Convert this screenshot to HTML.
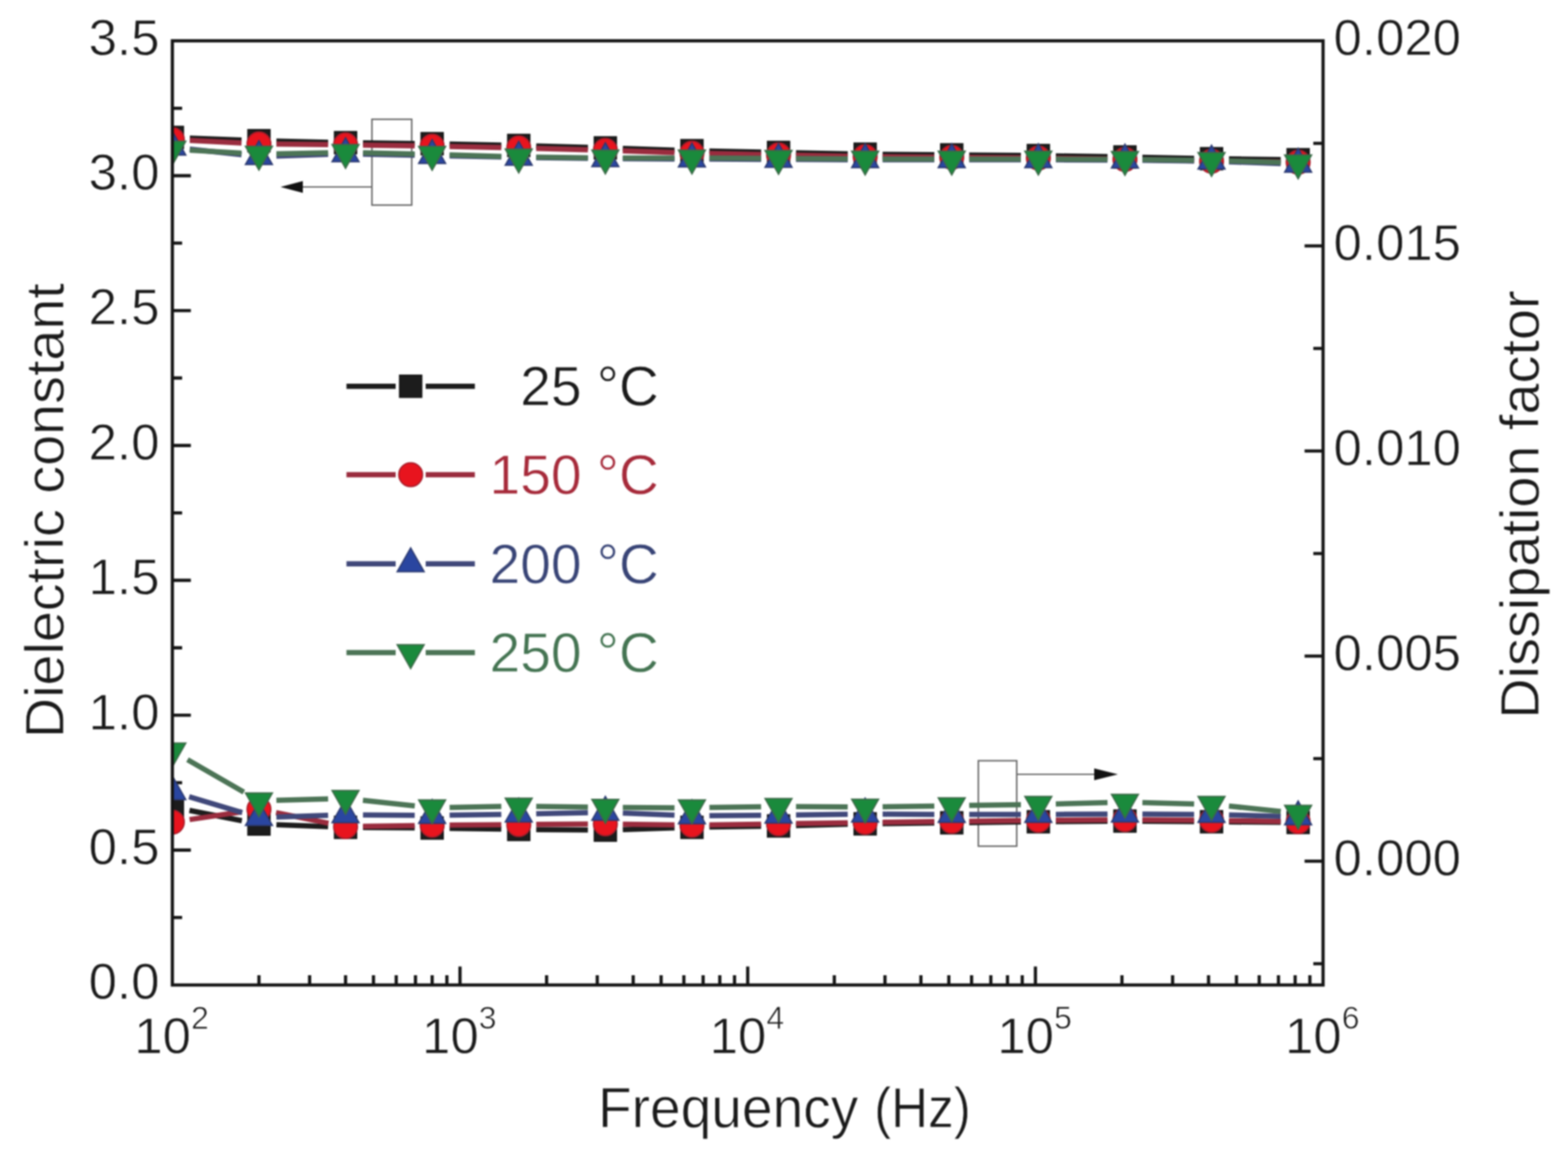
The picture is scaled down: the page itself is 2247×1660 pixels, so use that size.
<!DOCTYPE html>
<html><head><meta charset="utf-8"><title>Dielectric constant and dissipation factor vs frequency</title>
<style>
html,body{margin:0;padding:0;background:#fff;}
body{width:2247px;height:1660px;overflow:hidden;}
svg{display:block;filter:blur(1.3px);}
text{font-family:'Liberation Sans', Arial, Helvetica, sans-serif;stroke:#fff;stroke-width:0.9px;}
</style></head><body>
<svg width="2247" height="1660" viewBox="0 0 2247 1660">
<rect width="2247" height="1660" fill="#ffffff"/>
<defs><clipPath id="pa"><rect x="247.0" y="58.5" width="1649.0" height="1353.5"/></clipPath></defs>

<g fill="none" stroke="#6a6a6a" stroke-width="2.2">
<rect x="533" y="171" width="57" height="123"/>
<line x1="533" y1="268" x2="425" y2="268"/>
<rect x="1402" y="1090.5" width="55" height="122.5"/>
<line x1="1457" y1="1110" x2="1572" y2="1110"/>
</g>
<polygon points="402,268 434,259.5 434,276.5" fill="#111"/>
<polygon points="1602,1110 1568,1101.5 1568,1118.5" fill="#111"/>
<path d="M247.0,1315.3h14.0 M247.0,1218.6h26.5 M247.0,1122.0h14.0 M247.0,1025.3h26.5 M247.0,928.6h14.0 M247.0,831.9h26.5 M247.0,735.2h14.0 M247.0,638.6h26.5 M247.0,541.9h14.0 M247.0,445.2h26.5 M247.0,348.5h14.0 M247.0,251.9h26.5 M247.0,155.2h14.0 M1896.0,1381.5h-14.0 M1896.0,1234.5h-26.5 M1896.0,1087.5h-14.0 M1896.0,940.5h-26.5 M1896.0,793.5h-14.0 M1896.0,646.5h-26.5 M1896.0,499.5h-14.0 M1896.0,352.5h-26.5 M1896.0,205.5h-14.0 M371.1,1412.0v-14.0 M443.7,1412.0v-14.0 M495.2,1412.0v-14.0 M535.2,1412.0v-14.0 M567.8,1412.0v-14.0 M595.4,1412.0v-14.0 M619.3,1412.0v-14.0 M640.4,1412.0v-14.0 M659.2,1412.0v-26.5 M783.3,1412.0v-14.0 M855.9,1412.0v-14.0 M907.4,1412.0v-14.0 M947.4,1412.0v-14.0 M980.0,1412.0v-14.0 M1007.6,1412.0v-14.0 M1031.5,1412.0v-14.0 M1052.6,1412.0v-14.0 M1071.5,1412.0v-26.5 M1195.6,1412.0v-14.0 M1268.2,1412.0v-14.0 M1319.7,1412.0v-14.0 M1359.7,1412.0v-14.0 M1392.3,1412.0v-14.0 M1419.9,1412.0v-14.0 M1443.8,1412.0v-14.0 M1464.9,1412.0v-14.0 M1483.8,1412.0v-26.5 M1607.8,1412.0v-14.0 M1680.4,1412.0v-14.0 M1731.9,1412.0v-14.0 M1771.9,1412.0v-14.0 M1804.5,1412.0v-14.0 M1832.1,1412.0v-14.0 M1856.0,1412.0v-14.0 M1877.1,1412.0v-14.0" stroke="#141414" stroke-width="4.6" fill="none"/>
<g clip-path="url(#pa)">
<line x1="272.0" y1="197.9" x2="346.1" y2="200.8" stroke="#1c1c1c" stroke-width="7.5"/>
<line x1="396.1" y1="202.3" x2="470.2" y2="203.9" stroke="#1c1c1c" stroke-width="7.5"/>
<line x1="520.2" y1="204.8" x2="594.3" y2="205.7" stroke="#1c1c1c" stroke-width="7.5"/>
<line x1="644.3" y1="206.5" x2="718.4" y2="208.0" stroke="#1c1c1c" stroke-width="7.5"/>
<line x1="768.4" y1="209.2" x2="842.5" y2="211.3" stroke="#1c1c1c" stroke-width="7.5"/>
<line x1="892.5" y1="212.8" x2="966.6" y2="215.2" stroke="#1c1c1c" stroke-width="7.5"/>
<line x1="1016.6" y1="216.5" x2="1090.7" y2="218.0" stroke="#1c1c1c" stroke-width="7.5"/>
<line x1="1140.7" y1="219.0" x2="1214.8" y2="220.5" stroke="#1c1c1c" stroke-width="7.5"/>
<line x1="1264.8" y1="221.2" x2="1338.9" y2="221.8" stroke="#1c1c1c" stroke-width="7.5"/>
<line x1="1388.9" y1="222.2" x2="1463.0" y2="222.8" stroke="#1c1c1c" stroke-width="7.5"/>
<line x1="1513.0" y1="223.4" x2="1587.1" y2="224.6" stroke="#1c1c1c" stroke-width="7.5"/>
<line x1="1637.1" y1="225.5" x2="1711.2" y2="227.0" stroke="#1c1c1c" stroke-width="7.5"/>
<line x1="1761.2" y1="227.8" x2="1835.3" y2="228.7" stroke="#1c1c1c" stroke-width="7.5"/>
<rect x="231.0" y="181.0" width="32.0" height="32.0" fill="#1c1c1c" stroke="#111111" stroke-width="1.5"/>
<rect x="355.1" y="185.7" width="32.0" height="32.0" fill="#1c1c1c" stroke="#111111" stroke-width="1.5"/>
<rect x="479.2" y="188.5" width="32.0" height="32.0" fill="#1c1c1c" stroke="#111111" stroke-width="1.5"/>
<rect x="603.3" y="190.0" width="32.0" height="32.0" fill="#1c1c1c" stroke="#111111" stroke-width="1.5"/>
<rect x="727.4" y="192.5" width="32.0" height="32.0" fill="#1c1c1c" stroke="#111111" stroke-width="1.5"/>
<rect x="851.5" y="196.0" width="32.0" height="32.0" fill="#1c1c1c" stroke="#111111" stroke-width="1.5"/>
<rect x="975.6" y="200.0" width="32.0" height="32.0" fill="#1c1c1c" stroke="#111111" stroke-width="1.5"/>
<rect x="1099.7" y="202.5" width="32.0" height="32.0" fill="#1c1c1c" stroke="#111111" stroke-width="1.5"/>
<rect x="1223.8" y="205.0" width="32.0" height="32.0" fill="#1c1c1c" stroke="#111111" stroke-width="1.5"/>
<rect x="1347.9" y="206.0" width="32.0" height="32.0" fill="#1c1c1c" stroke="#111111" stroke-width="1.5"/>
<rect x="1472.0" y="207.0" width="32.0" height="32.0" fill="#1c1c1c" stroke="#111111" stroke-width="1.5"/>
<rect x="1596.1" y="209.0" width="32.0" height="32.0" fill="#1c1c1c" stroke="#111111" stroke-width="1.5"/>
<rect x="1720.2" y="211.5" width="32.0" height="32.0" fill="#1c1c1c" stroke="#111111" stroke-width="1.5"/>
<rect x="1844.3" y="213.0" width="32.0" height="32.0" fill="#1c1c1c" stroke="#111111" stroke-width="1.5"/>
<line x1="272.0" y1="201.2" x2="346.1" y2="205.0" stroke="#9a2c3e" stroke-width="7.5"/>
<line x1="396.1" y1="206.5" x2="470.2" y2="207.2" stroke="#9a2c3e" stroke-width="7.5"/>
<line x1="520.2" y1="207.9" x2="594.3" y2="209.1" stroke="#9a2c3e" stroke-width="7.5"/>
<line x1="644.3" y1="210.0" x2="718.4" y2="211.5" stroke="#9a2c3e" stroke-width="7.5"/>
<line x1="768.4" y1="212.7" x2="842.5" y2="214.8" stroke="#9a2c3e" stroke-width="7.5"/>
<line x1="892.5" y1="216.3" x2="966.6" y2="218.7" stroke="#9a2c3e" stroke-width="7.5"/>
<line x1="1016.6" y1="220.0" x2="1090.7" y2="221.5" stroke="#9a2c3e" stroke-width="7.5"/>
<line x1="1140.7" y1="222.5" x2="1214.8" y2="224.0" stroke="#9a2c3e" stroke-width="7.5"/>
<line x1="1264.8" y1="224.7" x2="1338.9" y2="225.3" stroke="#9a2c3e" stroke-width="7.5"/>
<line x1="1388.9" y1="225.7" x2="1463.0" y2="226.3" stroke="#9a2c3e" stroke-width="7.5"/>
<line x1="1513.0" y1="226.9" x2="1587.1" y2="228.1" stroke="#9a2c3e" stroke-width="7.5"/>
<line x1="1637.1" y1="229.0" x2="1711.2" y2="230.5" stroke="#9a2c3e" stroke-width="7.5"/>
<line x1="1761.2" y1="231.3" x2="1835.3" y2="232.2" stroke="#9a2c3e" stroke-width="7.5"/>
<circle cx="247.0" cy="200.0" r="17.0" fill="#e8141e" stroke="#a81c2a" stroke-width="2"/>
<circle cx="371.1" cy="206.2" r="17.0" fill="#e8141e" stroke="#a81c2a" stroke-width="2"/>
<circle cx="495.2" cy="207.5" r="17.0" fill="#e8141e" stroke="#a81c2a" stroke-width="2"/>
<circle cx="619.3" cy="209.5" r="17.0" fill="#e8141e" stroke="#a81c2a" stroke-width="2"/>
<circle cx="743.4" cy="212.0" r="17.0" fill="#e8141e" stroke="#a81c2a" stroke-width="2"/>
<circle cx="867.5" cy="215.5" r="17.0" fill="#e8141e" stroke="#a81c2a" stroke-width="2"/>
<circle cx="991.6" cy="219.5" r="17.0" fill="#e8141e" stroke="#a81c2a" stroke-width="2"/>
<circle cx="1115.7" cy="222.0" r="17.0" fill="#e8141e" stroke="#a81c2a" stroke-width="2"/>
<circle cx="1239.8" cy="224.5" r="17.0" fill="#e8141e" stroke="#a81c2a" stroke-width="2"/>
<circle cx="1363.9" cy="225.5" r="17.0" fill="#e8141e" stroke="#a81c2a" stroke-width="2"/>
<circle cx="1488.0" cy="226.5" r="17.0" fill="#e8141e" stroke="#a81c2a" stroke-width="2"/>
<circle cx="1612.1" cy="228.5" r="17.0" fill="#e8141e" stroke="#a81c2a" stroke-width="2"/>
<circle cx="1736.2" cy="231.0" r="17.0" fill="#e8141e" stroke="#a81c2a" stroke-width="2"/>
<circle cx="1860.3" cy="232.5" r="17.0" fill="#e8141e" stroke="#a81c2a" stroke-width="2"/>
<line x1="271.9" y1="213.7" x2="346.2" y2="221.8" stroke="#40487a" stroke-width="7.5"/>
<line x1="396.1" y1="223.7" x2="470.2" y2="221.3" stroke="#40487a" stroke-width="7.5"/>
<line x1="520.2" y1="221.0" x2="594.3" y2="222.5" stroke="#40487a" stroke-width="7.5"/>
<line x1="644.3" y1="223.5" x2="718.4" y2="225.0" stroke="#40487a" stroke-width="7.5"/>
<line x1="768.4" y1="225.9" x2="842.5" y2="227.1" stroke="#40487a" stroke-width="7.5"/>
<line x1="892.5" y1="227.6" x2="966.6" y2="227.9" stroke="#40487a" stroke-width="7.5"/>
<line x1="1016.6" y1="228.1" x2="1090.7" y2="228.4" stroke="#40487a" stroke-width="7.5"/>
<line x1="1140.7" y1="228.6" x2="1214.8" y2="228.9" stroke="#40487a" stroke-width="7.5"/>
<line x1="1264.8" y1="229.0" x2="1338.9" y2="229.0" stroke="#40487a" stroke-width="7.5"/>
<line x1="1388.9" y1="229.0" x2="1463.0" y2="229.0" stroke="#40487a" stroke-width="7.5"/>
<line x1="1513.0" y1="229.1" x2="1587.1" y2="229.4" stroke="#40487a" stroke-width="7.5"/>
<line x1="1637.1" y1="229.8" x2="1711.2" y2="230.7" stroke="#40487a" stroke-width="7.5"/>
<line x1="1761.2" y1="231.9" x2="1835.3" y2="234.6" stroke="#40487a" stroke-width="7.5"/>
<polygon points="247.0,188.3 227.8,222.3 266.2,222.3" fill="#2a46a0" stroke="#2c3a70" stroke-width="2" stroke-linejoin="miter"/>
<polygon points="371.1,201.8 351.8,235.8 390.3,235.8" fill="#2a46a0" stroke="#2c3a70" stroke-width="2" stroke-linejoin="miter"/>
<polygon points="495.2,197.8 475.9,231.8 514.4,231.8" fill="#2a46a0" stroke="#2c3a70" stroke-width="2" stroke-linejoin="miter"/>
<polygon points="619.3,200.3 600.0,234.3 638.5,234.3" fill="#2a46a0" stroke="#2c3a70" stroke-width="2" stroke-linejoin="miter"/>
<polygon points="743.4,202.8 724.1,236.8 762.6,236.8" fill="#2a46a0" stroke="#2c3a70" stroke-width="2" stroke-linejoin="miter"/>
<polygon points="867.5,204.8 848.2,238.8 886.7,238.8" fill="#2a46a0" stroke="#2c3a70" stroke-width="2" stroke-linejoin="miter"/>
<polygon points="991.6,205.3 972.3,239.3 1010.8,239.3" fill="#2a46a0" stroke="#2c3a70" stroke-width="2" stroke-linejoin="miter"/>
<polygon points="1115.7,205.8 1096.4,239.8 1134.9,239.8" fill="#2a46a0" stroke="#2c3a70" stroke-width="2" stroke-linejoin="miter"/>
<polygon points="1239.8,206.3 1220.5,240.3 1259.0,240.3" fill="#2a46a0" stroke="#2c3a70" stroke-width="2" stroke-linejoin="miter"/>
<polygon points="1363.9,206.3 1344.6,240.3 1383.1,240.3" fill="#2a46a0" stroke="#2c3a70" stroke-width="2" stroke-linejoin="miter"/>
<polygon points="1488.0,206.3 1468.7,240.3 1507.2,240.3" fill="#2a46a0" stroke="#2c3a70" stroke-width="2" stroke-linejoin="miter"/>
<polygon points="1612.1,206.8 1592.8,240.8 1631.3,240.8" fill="#2a46a0" stroke="#2c3a70" stroke-width="2" stroke-linejoin="miter"/>
<polygon points="1736.2,208.3 1716.9,242.3 1755.4,242.3" fill="#2a46a0" stroke="#2c3a70" stroke-width="2" stroke-linejoin="miter"/>
<polygon points="1860.3,212.8 1841.0,246.8 1879.5,246.8" fill="#2a46a0" stroke="#2c3a70" stroke-width="2" stroke-linejoin="miter"/>
<line x1="272.0" y1="215.2" x2="346.1" y2="219.5" stroke="#4c7456" stroke-width="7.5"/>
<line x1="396.1" y1="220.5" x2="470.2" y2="219.0" stroke="#4c7456" stroke-width="7.5"/>
<line x1="520.2" y1="219.1" x2="594.3" y2="220.7" stroke="#4c7456" stroke-width="7.5"/>
<line x1="644.3" y1="222.0" x2="718.4" y2="224.3" stroke="#4c7456" stroke-width="7.5"/>
<line x1="768.4" y1="225.3" x2="842.5" y2="226.2" stroke="#4c7456" stroke-width="7.5"/>
<line x1="892.5" y1="226.5" x2="966.6" y2="226.5" stroke="#4c7456" stroke-width="7.5"/>
<line x1="1016.6" y1="226.6" x2="1090.7" y2="226.9" stroke="#4c7456" stroke-width="7.5"/>
<line x1="1140.7" y1="227.2" x2="1214.8" y2="227.8" stroke="#4c7456" stroke-width="7.5"/>
<line x1="1264.8" y1="228.0" x2="1338.9" y2="228.0" stroke="#4c7456" stroke-width="7.5"/>
<line x1="1388.9" y1="228.0" x2="1463.0" y2="228.0" stroke="#4c7456" stroke-width="7.5"/>
<line x1="1513.0" y1="228.1" x2="1587.1" y2="228.4" stroke="#4c7456" stroke-width="7.5"/>
<line x1="1637.1" y1="228.8" x2="1711.2" y2="229.7" stroke="#4c7456" stroke-width="7.5"/>
<line x1="1761.2" y1="230.7" x2="1835.3" y2="232.8" stroke="#4c7456" stroke-width="7.5"/>
<polygon points="247.0,236.4 227.8,202.4 266.2,202.4" fill="#1a8a3c" stroke="#3c6a48" stroke-width="2" stroke-linejoin="miter"/>
<polygon points="371.1,243.7 351.8,209.7 390.3,209.7" fill="#1a8a3c" stroke="#3c6a48" stroke-width="2" stroke-linejoin="miter"/>
<polygon points="495.2,241.2 475.9,207.2 514.4,207.2" fill="#1a8a3c" stroke="#3c6a48" stroke-width="2" stroke-linejoin="miter"/>
<polygon points="619.3,244.0 600.0,210.0 638.5,210.0" fill="#1a8a3c" stroke="#3c6a48" stroke-width="2" stroke-linejoin="miter"/>
<polygon points="743.4,247.7 724.1,213.7 762.6,213.7" fill="#1a8a3c" stroke="#3c6a48" stroke-width="2" stroke-linejoin="miter"/>
<polygon points="867.5,249.2 848.2,215.2 886.7,215.2" fill="#1a8a3c" stroke="#3c6a48" stroke-width="2" stroke-linejoin="miter"/>
<polygon points="991.6,249.2 972.3,215.2 1010.8,215.2" fill="#1a8a3c" stroke="#3c6a48" stroke-width="2" stroke-linejoin="miter"/>
<polygon points="1115.7,249.7 1096.4,215.7 1134.9,215.7" fill="#1a8a3c" stroke="#3c6a48" stroke-width="2" stroke-linejoin="miter"/>
<polygon points="1239.8,250.7 1220.5,216.7 1259.0,216.7" fill="#1a8a3c" stroke="#3c6a48" stroke-width="2" stroke-linejoin="miter"/>
<polygon points="1363.9,250.7 1344.6,216.7 1383.1,216.7" fill="#1a8a3c" stroke="#3c6a48" stroke-width="2" stroke-linejoin="miter"/>
<polygon points="1488.0,250.7 1468.7,216.7 1507.2,216.7" fill="#1a8a3c" stroke="#3c6a48" stroke-width="2" stroke-linejoin="miter"/>
<polygon points="1612.1,251.2 1592.8,217.2 1631.3,217.2" fill="#1a8a3c" stroke="#3c6a48" stroke-width="2" stroke-linejoin="miter"/>
<polygon points="1736.2,252.7 1716.9,218.7 1755.4,218.7" fill="#1a8a3c" stroke="#3c6a48" stroke-width="2" stroke-linejoin="miter"/>
<polygon points="1860.3,256.2 1841.0,222.2 1879.5,222.2" fill="#1a8a3c" stroke="#3c6a48" stroke-width="2" stroke-linejoin="miter"/>
<line x1="271.5" y1="1161.8" x2="346.6" y2="1176.5" stroke="#1c1c1c" stroke-width="7.5"/>
<line x1="396.1" y1="1182.2" x2="470.2" y2="1185.1" stroke="#1c1c1c" stroke-width="7.5"/>
<line x1="520.2" y1="1186.2" x2="594.3" y2="1186.8" stroke="#1c1c1c" stroke-width="7.5"/>
<line x1="644.3" y1="1187.4" x2="718.4" y2="1188.6" stroke="#1c1c1c" stroke-width="7.5"/>
<line x1="768.4" y1="1189.2" x2="842.5" y2="1189.8" stroke="#1c1c1c" stroke-width="7.5"/>
<line x1="892.5" y1="1189.2" x2="966.6" y2="1186.8" stroke="#1c1c1c" stroke-width="7.5"/>
<line x1="1016.6" y1="1185.6" x2="1090.7" y2="1184.4" stroke="#1c1c1c" stroke-width="7.5"/>
<line x1="1140.7" y1="1183.4" x2="1214.8" y2="1181.6" stroke="#1c1c1c" stroke-width="7.5"/>
<line x1="1264.8" y1="1180.7" x2="1338.9" y2="1179.8" stroke="#1c1c1c" stroke-width="7.5"/>
<line x1="1388.9" y1="1179.2" x2="1463.0" y2="1178.3" stroke="#1c1c1c" stroke-width="7.5"/>
<line x1="1513.0" y1="1177.8" x2="1587.1" y2="1177.2" stroke="#1c1c1c" stroke-width="7.5"/>
<line x1="1637.1" y1="1177.2" x2="1711.2" y2="1177.8" stroke="#1c1c1c" stroke-width="7.5"/>
<line x1="1761.2" y1="1178.2" x2="1835.3" y2="1178.8" stroke="#1c1c1c" stroke-width="7.5"/>
<rect x="231.0" y="1141.0" width="32.0" height="32.0" fill="#1c1c1c" stroke="#111111" stroke-width="1.5"/>
<rect x="355.1" y="1165.3" width="32.0" height="32.0" fill="#1c1c1c" stroke="#111111" stroke-width="1.5"/>
<rect x="479.2" y="1170.0" width="32.0" height="32.0" fill="#1c1c1c" stroke="#111111" stroke-width="1.5"/>
<rect x="603.3" y="1171.0" width="32.0" height="32.0" fill="#1c1c1c" stroke="#111111" stroke-width="1.5"/>
<rect x="727.4" y="1173.0" width="32.0" height="32.0" fill="#1c1c1c" stroke="#111111" stroke-width="1.5"/>
<rect x="851.5" y="1174.0" width="32.0" height="32.0" fill="#1c1c1c" stroke="#111111" stroke-width="1.5"/>
<rect x="975.6" y="1170.0" width="32.0" height="32.0" fill="#1c1c1c" stroke="#111111" stroke-width="1.5"/>
<rect x="1099.7" y="1168.0" width="32.0" height="32.0" fill="#1c1c1c" stroke="#111111" stroke-width="1.5"/>
<rect x="1223.8" y="1165.0" width="32.0" height="32.0" fill="#1c1c1c" stroke="#111111" stroke-width="1.5"/>
<rect x="1347.9" y="1163.5" width="32.0" height="32.0" fill="#1c1c1c" stroke="#111111" stroke-width="1.5"/>
<rect x="1472.0" y="1162.0" width="32.0" height="32.0" fill="#1c1c1c" stroke="#111111" stroke-width="1.5"/>
<rect x="1596.1" y="1161.0" width="32.0" height="32.0" fill="#1c1c1c" stroke="#111111" stroke-width="1.5"/>
<rect x="1720.2" y="1162.0" width="32.0" height="32.0" fill="#1c1c1c" stroke="#111111" stroke-width="1.5"/>
<rect x="1844.3" y="1163.0" width="32.0" height="32.0" fill="#1c1c1c" stroke="#111111" stroke-width="1.5"/>
<line x1="271.7" y1="1174.9" x2="346.4" y2="1163.7" stroke="#9a2c3e" stroke-width="7.5"/>
<line x1="395.6" y1="1164.9" x2="470.7" y2="1180.1" stroke="#9a2c3e" stroke-width="7.5"/>
<line x1="520.2" y1="1184.6" x2="594.3" y2="1183.4" stroke="#9a2c3e" stroke-width="7.5"/>
<line x1="644.3" y1="1182.8" x2="718.4" y2="1182.2" stroke="#9a2c3e" stroke-width="7.5"/>
<line x1="768.4" y1="1181.8" x2="842.5" y2="1181.2" stroke="#9a2c3e" stroke-width="7.5"/>
<line x1="892.5" y1="1181.4" x2="966.6" y2="1182.6" stroke="#9a2c3e" stroke-width="7.5"/>
<line x1="1016.6" y1="1182.6" x2="1090.7" y2="1181.4" stroke="#9a2c3e" stroke-width="7.5"/>
<line x1="1140.7" y1="1180.6" x2="1214.8" y2="1179.4" stroke="#9a2c3e" stroke-width="7.5"/>
<line x1="1264.8" y1="1178.7" x2="1338.9" y2="1177.8" stroke="#9a2c3e" stroke-width="7.5"/>
<line x1="1388.9" y1="1177.2" x2="1463.0" y2="1176.3" stroke="#9a2c3e" stroke-width="7.5"/>
<line x1="1513.0" y1="1175.8" x2="1587.1" y2="1175.2" stroke="#9a2c3e" stroke-width="7.5"/>
<line x1="1637.1" y1="1175.2" x2="1711.2" y2="1175.8" stroke="#9a2c3e" stroke-width="7.5"/>
<line x1="1761.2" y1="1176.4" x2="1835.3" y2="1177.6" stroke="#9a2c3e" stroke-width="7.5"/>
<circle cx="247.0" cy="1178.6" r="17.0" fill="#e8141e" stroke="#a81c2a" stroke-width="2"/>
<circle cx="371.1" cy="1160.0" r="17.0" fill="#e8141e" stroke="#a81c2a" stroke-width="2"/>
<circle cx="495.2" cy="1185.0" r="17.0" fill="#e8141e" stroke="#a81c2a" stroke-width="2"/>
<circle cx="619.3" cy="1183.0" r="17.0" fill="#e8141e" stroke="#a81c2a" stroke-width="2"/>
<circle cx="743.4" cy="1182.0" r="17.0" fill="#e8141e" stroke="#a81c2a" stroke-width="2"/>
<circle cx="867.5" cy="1181.0" r="17.0" fill="#e8141e" stroke="#a81c2a" stroke-width="2"/>
<circle cx="991.6" cy="1183.0" r="17.0" fill="#e8141e" stroke="#a81c2a" stroke-width="2"/>
<circle cx="1115.7" cy="1181.0" r="17.0" fill="#e8141e" stroke="#a81c2a" stroke-width="2"/>
<circle cx="1239.8" cy="1179.0" r="17.0" fill="#e8141e" stroke="#a81c2a" stroke-width="2"/>
<circle cx="1363.9" cy="1177.5" r="17.0" fill="#e8141e" stroke="#a81c2a" stroke-width="2"/>
<circle cx="1488.0" cy="1176.0" r="17.0" fill="#e8141e" stroke="#a81c2a" stroke-width="2"/>
<circle cx="1612.1" cy="1175.0" r="17.0" fill="#e8141e" stroke="#a81c2a" stroke-width="2"/>
<circle cx="1736.2" cy="1176.0" r="17.0" fill="#e8141e" stroke="#a81c2a" stroke-width="2"/>
<circle cx="1860.3" cy="1178.0" r="17.0" fill="#e8141e" stroke="#a81c2a" stroke-width="2"/>
<line x1="271.0" y1="1142.1" x2="347.1" y2="1164.9" stroke="#40487a" stroke-width="7.5"/>
<line x1="396.1" y1="1171.2" x2="470.2" y2="1168.8" stroke="#40487a" stroke-width="7.5"/>
<line x1="520.2" y1="1168.2" x2="594.3" y2="1168.8" stroke="#40487a" stroke-width="7.5"/>
<line x1="644.3" y1="1168.6" x2="718.4" y2="1167.4" stroke="#40487a" stroke-width="7.5"/>
<line x1="768.4" y1="1166.5" x2="842.5" y2="1165.0" stroke="#40487a" stroke-width="7.5"/>
<line x1="892.5" y1="1165.5" x2="966.6" y2="1168.5" stroke="#40487a" stroke-width="7.5"/>
<line x1="1016.6" y1="1169.3" x2="1090.7" y2="1168.7" stroke="#40487a" stroke-width="7.5"/>
<line x1="1140.7" y1="1168.2" x2="1214.8" y2="1167.3" stroke="#40487a" stroke-width="7.5"/>
<line x1="1264.8" y1="1167.1" x2="1338.9" y2="1167.4" stroke="#40487a" stroke-width="7.5"/>
<line x1="1388.9" y1="1167.5" x2="1463.0" y2="1167.5" stroke="#40487a" stroke-width="7.5"/>
<line x1="1513.0" y1="1167.4" x2="1587.1" y2="1167.1" stroke="#40487a" stroke-width="7.5"/>
<line x1="1637.1" y1="1167.1" x2="1711.2" y2="1167.4" stroke="#40487a" stroke-width="7.5"/>
<line x1="1761.2" y1="1168.2" x2="1835.3" y2="1170.3" stroke="#40487a" stroke-width="7.5"/>
<polygon points="247.0,1112.3 227.8,1146.3 266.2,1146.3" fill="#2a46a0" stroke="#2c3a70" stroke-width="2" stroke-linejoin="miter"/>
<polygon points="371.1,1149.3 351.8,1183.3 390.3,1183.3" fill="#2a46a0" stroke="#2c3a70" stroke-width="2" stroke-linejoin="miter"/>
<polygon points="495.2,1145.3 475.9,1179.3 514.4,1179.3" fill="#2a46a0" stroke="#2c3a70" stroke-width="2" stroke-linejoin="miter"/>
<polygon points="619.3,1146.3 600.0,1180.3 638.5,1180.3" fill="#2a46a0" stroke="#2c3a70" stroke-width="2" stroke-linejoin="miter"/>
<polygon points="743.4,1144.3 724.1,1178.3 762.6,1178.3" fill="#2a46a0" stroke="#2c3a70" stroke-width="2" stroke-linejoin="miter"/>
<polygon points="867.5,1141.8 848.2,1175.8 886.7,1175.8" fill="#2a46a0" stroke="#2c3a70" stroke-width="2" stroke-linejoin="miter"/>
<polygon points="991.6,1146.8 972.3,1180.8 1010.8,1180.8" fill="#2a46a0" stroke="#2c3a70" stroke-width="2" stroke-linejoin="miter"/>
<polygon points="1115.7,1145.8 1096.4,1179.8 1134.9,1179.8" fill="#2a46a0" stroke="#2c3a70" stroke-width="2" stroke-linejoin="miter"/>
<polygon points="1239.8,1144.3 1220.5,1178.3 1259.0,1178.3" fill="#2a46a0" stroke="#2c3a70" stroke-width="2" stroke-linejoin="miter"/>
<polygon points="1363.9,1144.8 1344.6,1178.8 1383.1,1178.8" fill="#2a46a0" stroke="#2c3a70" stroke-width="2" stroke-linejoin="miter"/>
<polygon points="1488.0,1144.8 1468.7,1178.8 1507.2,1178.8" fill="#2a46a0" stroke="#2c3a70" stroke-width="2" stroke-linejoin="miter"/>
<polygon points="1612.1,1144.3 1592.8,1178.3 1631.3,1178.3" fill="#2a46a0" stroke="#2c3a70" stroke-width="2" stroke-linejoin="miter"/>
<polygon points="1736.2,1144.8 1716.9,1178.8 1755.4,1178.8" fill="#2a46a0" stroke="#2c3a70" stroke-width="2" stroke-linejoin="miter"/>
<polygon points="1860.3,1148.3 1841.0,1182.3 1879.5,1182.3" fill="#2a46a0" stroke="#2c3a70" stroke-width="2" stroke-linejoin="miter"/>
<line x1="268.7" y1="1089.0" x2="349.4" y2="1135.5" stroke="#4c7456" stroke-width="7.5"/>
<line x1="396.1" y1="1147.3" x2="470.2" y2="1145.2" stroke="#4c7456" stroke-width="7.5"/>
<line x1="520.1" y1="1147.2" x2="594.4" y2="1155.3" stroke="#4c7456" stroke-width="7.5"/>
<line x1="644.3" y1="1157.5" x2="718.4" y2="1156.0" stroke="#4c7456" stroke-width="7.5"/>
<line x1="768.4" y1="1155.9" x2="842.5" y2="1157.0" stroke="#4c7456" stroke-width="7.5"/>
<line x1="892.5" y1="1157.5" x2="966.6" y2="1157.9" stroke="#4c7456" stroke-width="7.5"/>
<line x1="1016.6" y1="1157.6" x2="1090.7" y2="1156.4" stroke="#4c7456" stroke-width="7.5"/>
<line x1="1140.7" y1="1156.2" x2="1214.8" y2="1156.8" stroke="#4c7456" stroke-width="7.5"/>
<line x1="1264.8" y1="1156.6" x2="1338.9" y2="1155.4" stroke="#4c7456" stroke-width="7.5"/>
<line x1="1388.9" y1="1154.6" x2="1463.0" y2="1153.4" stroke="#4c7456" stroke-width="7.5"/>
<line x1="1513.0" y1="1152.4" x2="1587.1" y2="1150.6" stroke="#4c7456" stroke-width="7.5"/>
<line x1="1637.1" y1="1150.6" x2="1711.2" y2="1152.4" stroke="#4c7456" stroke-width="7.5"/>
<line x1="1761.1" y1="1155.5" x2="1835.4" y2="1163.2" stroke="#4c7456" stroke-width="7.5"/>
<polygon points="247.0,1099.2 227.8,1065.2 266.2,1065.2" fill="#1a8a3c" stroke="#3c6a48" stroke-width="2" stroke-linejoin="miter"/>
<polygon points="371.1,1170.7 351.8,1136.7 390.3,1136.7" fill="#1a8a3c" stroke="#3c6a48" stroke-width="2" stroke-linejoin="miter"/>
<polygon points="495.2,1167.2 475.9,1133.2 514.4,1133.2" fill="#1a8a3c" stroke="#3c6a48" stroke-width="2" stroke-linejoin="miter"/>
<polygon points="619.3,1180.7 600.0,1146.7 638.5,1146.7" fill="#1a8a3c" stroke="#3c6a48" stroke-width="2" stroke-linejoin="miter"/>
<polygon points="743.4,1178.2 724.1,1144.2 762.6,1144.2" fill="#1a8a3c" stroke="#3c6a48" stroke-width="2" stroke-linejoin="miter"/>
<polygon points="867.5,1180.1 848.2,1146.1 886.7,1146.1" fill="#1a8a3c" stroke="#3c6a48" stroke-width="2" stroke-linejoin="miter"/>
<polygon points="991.6,1180.7 972.3,1146.7 1010.8,1146.7" fill="#1a8a3c" stroke="#3c6a48" stroke-width="2" stroke-linejoin="miter"/>
<polygon points="1115.7,1178.7 1096.4,1144.7 1134.9,1144.7" fill="#1a8a3c" stroke="#3c6a48" stroke-width="2" stroke-linejoin="miter"/>
<polygon points="1239.8,1179.7 1220.5,1145.7 1259.0,1145.7" fill="#1a8a3c" stroke="#3c6a48" stroke-width="2" stroke-linejoin="miter"/>
<polygon points="1363.9,1177.7 1344.6,1143.7 1383.1,1143.7" fill="#1a8a3c" stroke="#3c6a48" stroke-width="2" stroke-linejoin="miter"/>
<polygon points="1488.0,1175.7 1468.7,1141.7 1507.2,1141.7" fill="#1a8a3c" stroke="#3c6a48" stroke-width="2" stroke-linejoin="miter"/>
<polygon points="1612.1,1172.7 1592.8,1138.7 1631.3,1138.7" fill="#1a8a3c" stroke="#3c6a48" stroke-width="2" stroke-linejoin="miter"/>
<polygon points="1736.2,1175.7 1716.9,1141.7 1755.4,1141.7" fill="#1a8a3c" stroke="#3c6a48" stroke-width="2" stroke-linejoin="miter"/>
<polygon points="1860.3,1188.4 1841.0,1154.4 1879.5,1154.4" fill="#1a8a3c" stroke="#3c6a48" stroke-width="2" stroke-linejoin="miter"/>
</g>
<rect x="247.0" y="58.5" width="1649.0" height="1353.5" fill="none" stroke="#141414" stroke-width="4.6"/>
<g font-size="73" fill="#1a1a1a">
<text text-anchor="end" transform="translate(228.5,1432.2) scale(1,1.0)">0.0</text>
<text text-anchor="end" transform="translate(228.5,1238.8) scale(1,1.0)">0.5</text>
<text text-anchor="end" transform="translate(228.5,1045.5) scale(1,1.0)">1.0</text>
<text text-anchor="end" transform="translate(228.5,852.1) scale(1,1.0)">1.5</text>
<text text-anchor="end" transform="translate(228.5,658.8) scale(1,1.0)">2.0</text>
<text text-anchor="end" transform="translate(228.5,465.4) scale(1,1.0)">2.5</text>
<text text-anchor="end" transform="translate(228.5,272.1) scale(1,1.0)">3.0</text>
<text text-anchor="end" transform="translate(228.5,78.7) scale(1,1.0)">3.5</text>
<text transform="translate(1911,1255.0) scale(1,1.0)">0.000</text>
<text transform="translate(1911,961.0) scale(1,1.0)">0.005</text>
<text transform="translate(1911,667.0) scale(1,1.0)">0.010</text>
<text transform="translate(1911,373.0) scale(1,1.0)">0.015</text>
<text transform="translate(1911,79.0) scale(1,1.0)">0.020</text>
<text transform="translate(192.5,1510) scale(1,1.0)">10<tspan font-size="46" dy="-35">2</tspan></text>
<text transform="translate(604.8,1510) scale(1,1.0)">10<tspan font-size="46" dy="-35">3</tspan></text>
<text transform="translate(1017.0,1510) scale(1,1.0)">10<tspan font-size="46" dy="-35">4</tspan></text>
<text transform="translate(1429.2,1510) scale(1,1.0)">10<tspan font-size="46" dy="-35">5</tspan></text>
<text transform="translate(1841.5,1510) scale(1,1.0)">10<tspan font-size="46" dy="-35">6</tspan></text>
</g>
<text font-size="78" fill="#1a1a1a" transform="translate(90.5,1058) rotate(-90)" textLength="652" lengthAdjust="spacingAndGlyphs">Dielectric constant</text>
<text font-size="78" fill="#1a1a1a" transform="translate(2204.5,1030.3) rotate(-90)" textLength="614" lengthAdjust="spacingAndGlyphs">Dissipation factor</text>
<g font-size="78" fill="#1a1a1a" transform="translate(0,1616) scale(1,1.045)"><text y="0"><tspan x="857" textLength="373" lengthAdjust="spacingAndGlyphs">Frequency</tspan> <tspan x="1252.7" textLength="138.5" lengthAdjust="spacingAndGlyphs">(Hz)</tspan></text></g>
<line x1="496.5" y1="553.7" x2="567" y2="553.7" stroke="#1c1c1c" stroke-width="7.5"/>
<line x1="610" y1="553.7" x2="680.5" y2="553.7" stroke="#1c1c1c" stroke-width="7.5"/>
<rect x="572.5" y="537.7" width="32.0" height="32.0" fill="#1c1c1c" stroke="#111111" stroke-width="1.5"/>
<text x="944" y="581.2" font-size="79" fill="#1a1a1a" text-anchor="end">25 °C</text>
<line x1="496.5" y1="680.5" x2="567" y2="680.5" stroke="#9a2c3e" stroke-width="7.5"/>
<line x1="610" y1="680.5" x2="680.5" y2="680.5" stroke="#9a2c3e" stroke-width="7.5"/>
<circle cx="588.5" cy="680.5" r="17.0" fill="#e8141e" stroke="#a81c2a" stroke-width="2"/>
<text x="944" y="708.0" font-size="79" fill="#a62a3a" text-anchor="end">150 °C</text>
<line x1="496.5" y1="808.3" x2="567" y2="808.3" stroke="#40487a" stroke-width="7.5"/>
<line x1="610" y1="808.3" x2="680.5" y2="808.3" stroke="#40487a" stroke-width="7.5"/>
<polygon points="588.5,785.6 569.2,819.6 607.8,819.6" fill="#2a46a0" stroke="#2c3a70" stroke-width="2" stroke-linejoin="miter"/>
<text x="944" y="835.8" font-size="79" fill="#384476" text-anchor="end">200 °C</text>
<line x1="496.5" y1="935.6" x2="567" y2="935.6" stroke="#4c7456" stroke-width="7.5"/>
<line x1="610" y1="935.6" x2="680.5" y2="935.6" stroke="#4c7456" stroke-width="7.5"/>
<polygon points="588.5,958.3 569.2,924.3 607.8,924.3" fill="#1a8a3c" stroke="#3c6a48" stroke-width="2" stroke-linejoin="miter"/>
<text x="944" y="963.1" font-size="79" fill="#447452" text-anchor="end">250 °C</text>
</svg>
</body></html>
